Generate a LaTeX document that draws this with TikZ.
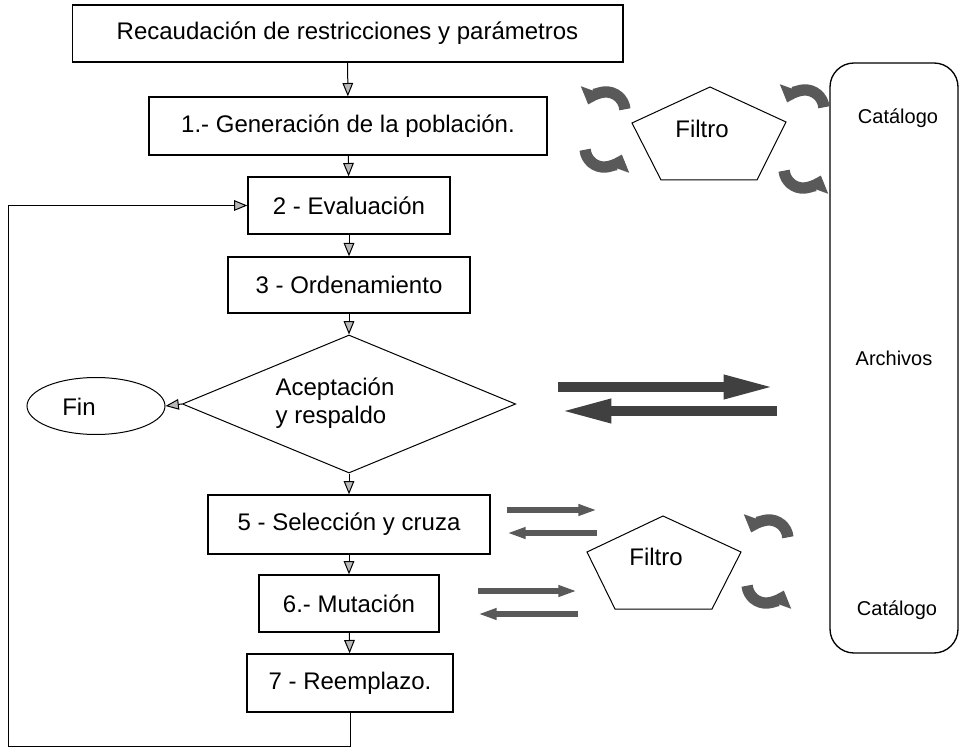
\documentclass[tikz,border=0pt]{standalone}
\usepackage{fontspec}
\setmainfont{Liberation Sans}
\usetikzlibrary{shapes.geometric,arrows.meta}

\tikzset{every picture/.style={line width=0.75pt}}
\tikzset{
  paso/.style={draw, rectangle, line width=1pt, inner sep=0.75pt, font=\fontsize{18}{21}\selectfont},
  etiq/.style={inner sep=0.75pt, font=\fontsize{18}{21}\selectfont},
  lateral/.style={inner sep=0.75pt, font=\fontsize{15}{18}\selectfont},
  flecha/.style={-{Triangle[width=8pt,length=10pt,fill=gray!55]}},
  rizo/.style={line width=8.5pt, draw=black!65, -{Triangle[width=19pt,length=11pt]}},
  gruesa/.style={line width=8pt, draw=black!75, -{Triangle[width=16pt,length=40pt]}},
  delgada/.style={line width=4.5pt, draw=black!65, -{Triangle[width=8pt,length=14pt]}}
}

\begin{document}
\begin{tikzpicture}[x=0.75pt,y=0.75pt,yscale=-1,xscale=1]
	\useasboundingbox (0,0) rectangle (959,748);
	
	%Shape: Rectangle [id:rec]
	\node[paso, minimum width=413pt, minimum height=42.75pt] (rec) at (347.5,33.5) {Recaudación de restricciones y parámetros};
	%Shape: Rectangle [id:gen]
	\node[paso, minimum width=298.5pt, minimum height=43.5pt] (gen) at (348,126) {1.- Generación de la población.};
	%Shape: Rectangle [id:eval]
	\node[paso, minimum width=151.5pt, minimum height=42.75pt] (eval) at (349,205.5) {2 - Evaluación};
	%Shape: Rectangle [id:orden]
	\node[paso, minimum width=181.5pt, minimum height=42pt] (orden) at (349,285) {3 - Ordenamiento};
	%Shape: Diamond [id:acep]
	\node[draw, diamond, aspect=2.4, inner sep=0pt, minimum width=250pt, minimum height=103.5pt] (acep) at (349,404) {};
	%Shape: Ellipse [id:fin]
	\node[draw, ellipse, inner sep=0pt, minimum width=103.5pt, minimum height=42.75pt] (fin) at (96,406) {};
	%Shape: Rectangle [id:sel]
	\node[paso, minimum width=211.5pt, minimum height=44.25pt] (sel) at (349,524.5) {5 - Selección y cruza};
	%Shape: Rectangle [id:mut]
	\node[paso, minimum width=135pt, minimum height=42.75pt] (mut) at (349,603.5) {6.- Mutación};
	%Shape: Rectangle [id:reem]
	\node[paso, minimum width=154.5pt, minimum height=43.5pt] (reem) at (350,683) {7 - Reemplazo.};
	%Shape: Rounded Rect [id:arch]
	\node[draw, rectangle, rounded corners=18pt, line width=1pt, minimum width=96pt, minimum height=442.5pt, lateral] (arch) at (894,358) {Archivos};
	
	% Text Node
	\node[etiq, align=left] (aceptxt) at (335,403) {Aceptación\\y respaldo};
	% Text Node
	\node[etiq] (fintxt) at (79,407) {Fin};
	% Text Node
	\node[lateral] (cat1) at (898,118) {Catálogo};
	% Text Node
	\node[lateral] (cat2) at (897,610) {Catálogo};
	
	%Shape: Regular Polygon [id:filtro1]
	\draw (710,87) -- (786,122) -- (757,180) -- (661,180) -- (632,123) -- cycle ;
	\node[etiq] (filtro1) at (702,129) {Filtro};
	%Shape: Regular Polygon [id:filtro2]
	\draw (663,516) -- (741,552) -- (712,609) -- (615,609) -- (587,552) -- cycle ;
	\node[etiq] (filtro2) at (656,557) {Filtro};
	
	%Straight Lines
	\draw[flecha] (rec) -- (gen);
	\draw[flecha] (gen) -- (eval);
	\draw[flecha] (eval) -- (orden);
	\draw[flecha] (orden) -- (acep);
	\draw[flecha] (acep) -- (sel);
	\draw[flecha] (sel) -- (mut);
	\draw[flecha] (mut) -- (reem);
	\draw[flecha] (acep.west) -- (fin.east);
	%Loop back
	\draw[flecha] (reem.south) |- (8,746.5) |- (eval.west);
	
	%Curve Arrows
	\draw[rizo] (624.9,109.3) arc[start angle=-5, end angle=-160, radius=19];
	\draw[rizo] (585.1,149.7) arc[start angle=175, end angle=20, radius=19];
	\draw[rizo] (823.9,107.3) arc[start angle=-5, end angle=-160, radius=19];
	\draw[rizo] (784.1,170.7) arc[start angle=175, end angle=20, radius=19];
	\draw[rizo] (787.9,537.3) arc[start angle=-5, end angle=-160, radius=19];
	\draw[rizo] (747.1,585.7) arc[start angle=175, end angle=20, radius=19];
	
	%Block Arrows
	\path (558,387) coordinate (ga1) (777,387) coordinate (ga2)
	      (777,411) coordinate (gb1) (558,411) coordinate (gb2)
	      (507,510) coordinate (sa1) (597,510) coordinate (sa2)
	      (597,533) coordinate (sb1) (507,533) coordinate (sb2)
	      (478,591) coordinate (ma1) (577,591) coordinate (ma2)
	      (578,614) coordinate (mb1) (478,614) coordinate (mb2);
	\draw[gruesa] (ga1) -- (ga2);
	\draw[gruesa] (gb1) -- (gb2);
	\draw[delgada] (sa1) -- (sa2);
	\draw[delgada] (sb1) -- (sb2);
	\draw[delgada] (ma1) -- (ma2);
	\draw[delgada] (mb1) -- (mb2);
	
\end{tikzpicture}
\end{document}
